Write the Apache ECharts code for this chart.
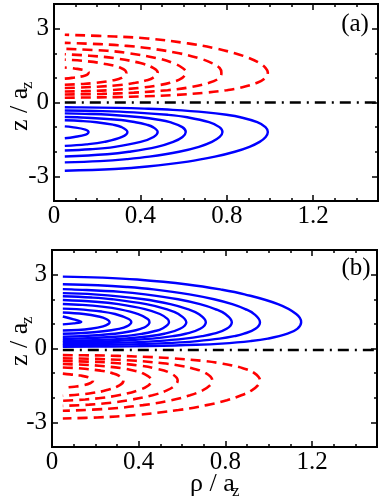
<!DOCTYPE html>
<html>
<head>
<meta charset="utf-8">
<script src="https://cdn.jsdelivr.net/npm/echarts@6/dist/echarts.min.js"></script>
<style>
html, body { margin: 0; background: #fff; }
#chart { width: 382px; height: 499px; }
</style>
</head>
<body>
<div id="chart"></div>
<script>
// tick values
var rhoLabels = [0, 0.4, 0.8, 1.2]
var rhoMajor = [0.4, 0.8, 1.2]
var rhoMinor = [0.1, 0.2, 0.3, 0.5, 0.6, 0.7, 0.9, 1.0, 1.1, 1.3, 1.4]
var zLabels = [-3, 0, 3]
var zMinor = [-2, -1, 1, 2]
var rhoMax = 1.5
var zMax = 4

// node lines (dash-dot)
var nodeA = 0
var nodeB = -0.06
var nodeRho = [0.05, 1.5]

// panel (a), blue solid contours, z < 0  [rho, z]
var blueA = [
    [[0.05,-0.97],[0.083,-1.0],[0.145,-1.1],[0.16,-1.2],[0.147,-1.3],[0.094,-1.4],[0.05,-1.45]],
    [[0.05,-0.72],[0.127,-0.75],[0.197,-0.8],[0.273,-0.9],[0.313,-1.0],[0.34,-1.2],[0.315,-1.4],[0.233,-1.6],[0.149,-1.7],[0.05,-1.76]],
    [[0.05,-0.587],[0.107,-0.6],[0.294,-0.7],[0.377,-0.8],[0.428,-0.9],[0.458,-1.0],[0.48,-1.2],[0.461,-1.4],[0.401,-1.6],[0.282,-1.8],[0.168,-1.9],[0.05,-1.95]],
    [[0.05,-0.443],[0.143,-0.46],[0.258,-0.5],[0.402,-0.6],[0.484,-0.7],[0.537,-0.8],[0.594,-1.0],[0.61,-1.2],[0.595,-1.4],[0.552,-1.6],[0.477,-1.8],[0.347,-2.0],[0.246,-2.1],[0.05,-2.19]],
    [[0.05,-0.325],[0.224,-0.35],[0.37,-0.4],[0.526,-0.5],[0.617,-0.6],[0.718,-0.8],[0.766,-1.0],[0.78,-1.2],[0.767,-1.4],[0.731,-1.6],[0.671,-1.8],[0.579,-2.0],[0.441,-2.2],[0.337,-2.3],[0.212,-2.38],[0.05,-2.43]],
    [[0.05,-0.195],[0.128,-0.2],[0.29,-0.22],[0.418,-0.25],[0.55,-0.3],[0.705,-0.4],[0.799,-0.5],[0.863,-0.6],[0.941,-0.8],[0.979,-1.0],[0.99,-1.2],[0.98,-1.4],[0.952,-1.6],[0.905,-1.8],[0.837,-2.0],[0.745,-2.2],[0.62,-2.4],[0.432,-2.6],[0.281,-2.7],[0.05,-2.77]]
]

// panel (a), red dashed contours, z > 0
var redA = [
    [[0.05,0.97],[0.083,1.0],[0.145,1.1],[0.16,1.22],[0.147,1.3],[0.094,1.38],[0.05,1.42]],
    [[0.05,0.72],[0.127,0.75],[0.197,0.8],[0.273,0.9],[0.313,1.0],[0.335,1.2],[0.31,1.4],[0.228,1.58],[0.145,1.68],[0.05,1.74]],
    [[0.05,0.59],[0.107,0.6],[0.294,0.7],[0.377,0.8],[0.428,0.9],[0.458,1.0],[0.48,1.22],[0.461,1.4],[0.4,1.6],[0.28,1.8],[0.165,1.9],[0.05,1.96]],
    [[0.05,0.445],[0.143,0.46],[0.258,0.5],[0.402,0.6],[0.484,0.7],[0.537,0.8],[0.594,1.0],[0.61,1.25],[0.595,1.4],[0.552,1.6],[0.477,1.8],[0.347,2.0],[0.246,2.1],[0.05,2.18]],
    [[0.05,0.325],[0.224,0.35],[0.37,0.4],[0.526,0.5],[0.617,0.6],[0.718,0.8],[0.766,1.0],[0.775,1.2],[0.767,1.4],[0.731,1.6],[0.671,1.8],[0.579,2.0],[0.441,2.2],[0.337,2.3],[0.212,2.37],[0.05,2.42]],
    [[0.05,0.195],[0.128,0.2],[0.29,0.22],[0.418,0.25],[0.55,0.3],[0.705,0.4],[0.799,0.5],[0.863,0.6],[0.941,0.8],[0.979,1.0],[0.99,1.22],[0.98,1.4],[0.952,1.6],[0.905,1.8],[0.837,2.0],[0.745,2.2],[0.62,2.4],[0.432,2.6],[0.281,2.68],[0.05,2.75]]
]

// panel (b), blue solid contours, z > 0
var blueB = [
    [[0.05,0.98],[0.1,1.02],[0.135,1.08],[0.1,1.18],[0.05,1.3]],
    [[0.05,0.73],[0.12,0.75],[0.178,0.8],[0.236,0.9],[0.261,1.0],[0.266,1.07],[0.25,1.2],[0.215,1.3],[0.147,1.4],[0.05,1.46]],
    [[0.05,0.6],[0.142,0.63],[0.237,0.7],[0.308,0.8],[0.345,0.9],[0.366,1.07],[0.354,1.2],[0.291,1.4],[0.229,1.5],[0.113,1.6],[0.05,1.62]],
    [[0.05,0.48],[0.132,0.5],[0.291,0.6],[0.365,0.7],[0.409,0.8],[0.435,0.9],[0.45,1.07],[0.442,1.2],[0.398,1.4],[0.308,1.6],[0.23,1.7],[0.141,1.77],[0.05,1.81]],
    [[0.05,0.387],[0.122,0.4],[0.327,0.5],[0.417,0.6],[0.471,0.7],[0.507,0.8],[0.54,1.07],[0.533,1.2],[0.498,1.4],[0.429,1.6],[0.307,1.8],[0.201,1.9],[0.05,1.97]],
    [[0.05,0.312],[0.231,0.35],[0.333,0.4],[0.449,0.5],[0.518,0.6],[0.591,0.8],[0.62,1.07],[0.584,1.4],[0.527,1.6],[0.435,1.8],[0.278,2.0],[0.182,2.07],[0.05,2.12]],
    [[0.05,0.256],[0.172,0.27],[0.284,0.3],[0.464,0.4],[0.558,0.5],[0.617,0.6],[0.684,0.8],[0.71,1.07],[0.677,1.4],[0.626,1.6],[0.546,1.8],[0.424,2.0],[0.194,2.2],[0.05,2.25]],
    [[0.05,0.195],[0.126,0.2],[0.369,0.25],[0.482,0.3],[0.614,0.4],[0.693,0.5],[0.746,0.6],[0.806,0.8],[0.83,1.07],[0.8,1.4],[0.753,1.6],[0.683,1.8],[0.582,2.0],[0.43,2.2],[0.317,2.3],[0.09,2.4],[0.05,2.41]],
    [[0.05,0.135],[0.253,0.15],[0.476,0.2],[0.593,0.25],[0.671,0.3],[0.774,0.4],[0.841,0.5],[0.886,0.6],[0.939,0.8],[0.96,1.07],[0.933,1.4],[0.892,1.6],[0.832,1.8],[0.748,2.0],[0.634,2.2],[0.468,2.4],[0.344,2.5],[0.212,2.57],[0.05,2.61]],
    [[0.05,0.07],[0.275,0.08],[0.454,0.1],[0.667,0.15],[0.782,0.2],[0.916,0.3],[0.996,0.4],[1.087,0.6],[1.132,0.8],[1.15,1.07],[1.127,1.4],[1.043,1.8],[0.889,2.2],[0.777,2.4],[0.625,2.6],[0.393,2.8],[0.23,2.88],[0.05,2.92]]
]

// panel (b), red dashed contours, z < 0
var redB = [
    [[0.05,-1.02],[0.084,-1.05],[0.132,-1.1],[0.178,-1.2],[0.19,-1.3],[0.178,-1.4],[0.14,-1.5],[0.103,-1.55],[0.05,-1.6]],
    [[0.05,-0.77],[0.119,-0.8],[0.225,-0.9],[0.278,-1.0],[0.308,-1.1],[0.33,-1.3],[0.311,-1.5],[0.249,-1.7],[0.191,-1.8],[0.126,-1.87],[0.05,-1.92]],
    [[0.05,-0.63],[0.144,-0.66],[0.217,-0.7],[0.321,-0.8],[0.38,-0.9],[0.418,-1.0],[0.46,-1.3],[0.445,-1.5],[0.397,-1.7],[0.307,-1.9],[0.234,-2.0],[0.153,-2.07],[0.05,-2.12]],
    [[0.05,-0.505],[0.217,-0.55],[0.304,-0.6],[0.408,-0.7],[0.473,-0.8],[0.547,-1.0],[0.58,-1.3],[0.567,-1.5],[0.53,-1.7],[0.464,-1.9],[0.353,-2.1],[0.275,-2.2],[0.172,-2.28],[0.05,-2.33]],
    [[0.05,-0.4],[0.225,-0.43],[0.387,-0.5],[0.512,-0.6],[0.591,-0.7],[0.646,-0.8],[0.71,-1.0],[0.74,-1.3],[0.729,-1.5],[0.695,-1.7],[0.637,-1.9],[0.551,-2.1],[0.42,-2.3],[0.254,-2.45],[0.05,-2.53]],
    [[0.05,-0.27],[0.196,-0.28],[0.304,-0.3],[0.463,-0.35],[0.56,-0.4],[0.693,-0.5],[0.777,-0.6],[0.881,-0.8],[0.934,-1.0],[0.96,-1.3],[0.95,-1.5],[0.922,-1.7],[0.874,-1.9],[0.807,-2.1],[0.714,-2.3],[0.584,-2.5],[0.386,-2.7],[0.208,-2.8],[0.05,-2.84]]
]

var font = 'Liberation Serif'
var black = '#000'
// tick label text, drawn as rich text so the size sticks
var tickText = {t: {fontFamily: font, fontSize: 25, color: black}}
function tickFmt(v) { return '{t|' + v + '}' }

function xAxes(g) {
    var base = {
        type: 'value', gridIndex: g, min: 0, max: rhoMax,
        splitLine: {show: false},
        axisLine: {onZero: false, lineStyle: {color: black, width: 2}}
    }
    return [
        Object.assign({}, base, {
            position: 'bottom',
            axisTick: {inside: true, length: 6, customValues: rhoMajor, lineStyle: {color: black, width: 1.5}},
            axisLabel: {customValues: rhoLabels, margin: 3, formatter: tickFmt, rich: tickText}
        }),
        Object.assign({}, base, {
            position: 'bottom',
            axisTick: {inside: true, length: 3, customValues: rhoMinor, lineStyle: {color: black, width: 1.5}},
            axisLabel: {show: false}
        }),
        Object.assign({}, base, {
            position: 'top',
            axisTick: {inside: true, length: 6, customValues: rhoMajor, lineStyle: {color: black, width: 1.5}},
            axisLabel: {show: false}
        }),
        Object.assign({}, base, {
            position: 'top',
            axisTick: {inside: true, length: 3, customValues: rhoMinor, lineStyle: {color: black, width: 1.5}},
            axisLabel: {show: false}
        })
    ]
}

function yAxes(g) {
    var base = {
        type: 'value', gridIndex: g, min: -zMax, max: zMax,
        splitLine: {show: false},
        axisLine: {onZero: false, lineStyle: {color: black, width: 2}}
    }
    return [
        Object.assign({}, base, {
            position: 'left',
            axisTick: {inside: true, length: 6, customValues: zLabels, lineStyle: {color: black, width: 1.5}},
            axisLabel: {customValues: zLabels, margin: 5, formatter: tickFmt, rich: tickText}
        }),
        Object.assign({}, base, {
            position: 'left',
            axisTick: {inside: true, length: 3, customValues: zMinor, lineStyle: {color: black, width: 1.5}},
            axisLabel: {show: false}
        }),
        Object.assign({}, base, {
            position: 'right',
            axisTick: {inside: true, length: 6, customValues: zLabels, lineStyle: {color: black, width: 1.5}},
            axisLabel: {show: false}
        }),
        Object.assign({}, base, {
            position: 'right',
            axisTick: {inside: true, length: 3, customValues: zMinor, lineStyle: {color: black, width: 1.5}},
            axisLabel: {show: false}
        })
    ]
}

function contour(data, axis, color, dashed) {
    return {
        type: 'line', xAxisIndex: axis, yAxisIndex: axis,
        data: data, showSymbol: false, smooth: 0.4, silent: true,
        lineStyle: {color: color, width: dashed ? 2.6 : 2.4, type: dashed ? [10, 6] : 'solid'}
    }
}

function nodeLine(z, axis) {
    return {
        type: 'line', xAxisIndex: axis, yAxisIndex: axis,
        data: nodeRho.map(function (r) { return [r, z] }),
        showSymbol: false, silent: true, z: 3,
        lineStyle: {color: black, width: 2.4, type: [11, 6, 2, 6]}
    }
}

var series = []
blueA.forEach(function (c) { series.push(contour(c, 0, '#0000ff', false)) })
redA.forEach(function (c) { series.push(contour(c, 0, '#ff0000', true)) })
series.push(nodeLine(nodeA, 0))
blueB.forEach(function (c) { series.push(contour(c, 4, '#0000ff', false)) })
redB.forEach(function (c) { series.push(contour(c, 4, '#ff0000', true)) })
series.push(nodeLine(nodeB, 4))

function sublabel(x, y, main, rotate) {
    return {
        type: 'group', x: x, y: y, rotation: rotate ? Math.PI / 2 : 0,
        children: [
            {type: 'text', x: -25, y: 0, style: {text: main, font: '26px "Liberation Serif"', fill: black, textVerticalAlign: 'middle', textAlign: 'left'}},
            {type: 'text', x: 17, y: 8, style: {text: 'z', font: '17px "Liberation Serif"', fill: black, textVerticalAlign: 'middle', textAlign: 'left'}}
        ]
    }
}

var myChart = echarts.init(document.getElementById('chart'))
var option = {
    animation: false,
    backgroundColor: '#fff',
    grid: [
        {left: 54, top: 4, width: 324, height: 197},
        {left: 52, top: 250, width: 325, height: 197}
    ],
    xAxis: xAxes(0).concat(xAxes(1)),
    yAxis: yAxes(0).concat(yAxes(1)),
    series: series,
    graphic: [
        sublabel(20, 106, 'z / a', true),
        sublabel(20, 341, 'z / a', true),
        sublabel(215, 484, '\u03c1 / a', false),
        {type: 'text', x: 355, y: 24, style: {text: '(a)', font: '25px "Liberation Serif"', fill: black, textAlign: 'center', textVerticalAlign: 'middle'}},
        {type: 'text', x: 356, y: 268, style: {text: '(b)', font: '25px "Liberation Serif"', fill: black, textAlign: 'center', textVerticalAlign: 'middle'}}
    ]
}
myChart.setOption(option)
</script>
</body>
</html>
